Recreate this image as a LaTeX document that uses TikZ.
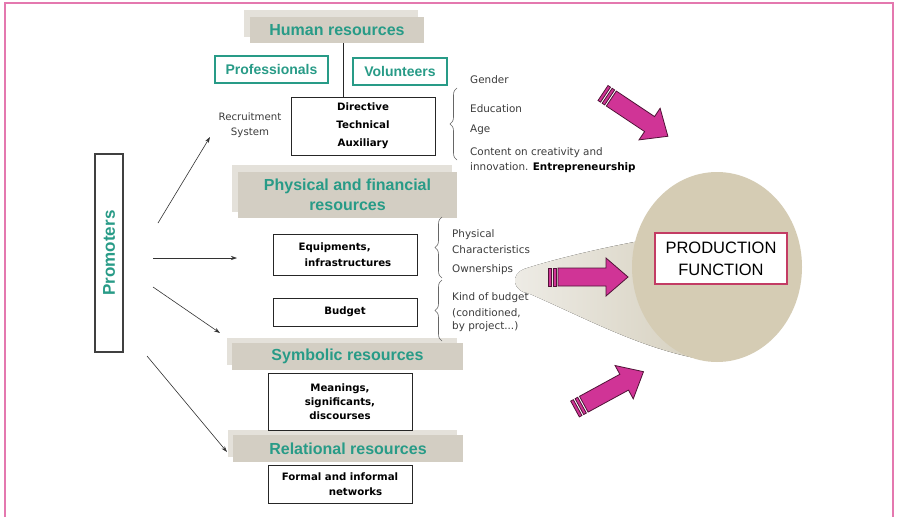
\documentclass[tikz,border=0pt]{standalone}
\usepackage{fontspec}
\setmainfont{DejaVu Sans}
\newfontfamily\hdfont{Liberation Sans}
\usetikzlibrary{decorations.pathreplacing,arrows.meta}
\definecolor{tealc}{RGB}{40,155,135}
\definecolor{hdback}{RGB}{228,225,218}
\definecolor{hdfront}{RGB}{211,206,195}
\definecolor{ellc}{RGB}{213,204,180}
\definecolor{tailA}{RGB}{238,236,230}
\definecolor{tailB}{RGB}{212,206,188}
\definecolor{pinkc}{RGB}{208,52,150}
\definecolor{pinkd}{RGB}{80,20,55}
\definecolor{bordc}{RGB}{228,120,175}
\definecolor{prodc}{RGB}{195,60,100}
\definecolor{listc}{RGB}{60,60,60}
\tikzset{
  hdfr/.style={fill=hdfront,text=tealc,inner sep=0pt,align=center,
    font=\hdfont\bfseries\fontsize{16}{20}\selectfont},
  hdbk/.style={fill=hdback,inner sep=0pt},
  tealbox/.style={draw=tealc,line width=1.6pt,text=tealc,inner sep=0pt,
    font=\hdfont\bfseries\fontsize{14}{15}\selectfont},
  whitebox/.style={draw=black!85,line width=0.8pt,fill=white,inner sep=0pt,
    font=\bfseries\fontsize{10.2}{14}\selectfont},
  listtext/.style={text=listc,anchor=west,inner sep=0pt,font=\fontsize{10.4}{11}\selectfont},
  brc/.style={draw=black!60,line width=0.6pt,decorate,decoration={brace,amplitude=7pt}},
  parr/.style={draw=black!80,line width=0.6pt,-{Stealth[length=6pt,width=4pt]}},
  pinkarr/.pic={
    \filldraw[fill=pinkc,draw=pinkd,line width=0.8pt] (0,-9) rectangle (3,9);
    \filldraw[fill=pinkc,draw=pinkd,line width=0.8pt] (5,-9) rectangle (8,9);
    \filldraw[fill=pinkc,draw=pinkd,line width=0.8pt]
      (10,-9) -- (#1-22,-9) -- (#1-22,-19) -- (#1,0) -- (#1-22,19) -- (#1-22,9) -- (10,9) -- cycle;
  }
}
\begin{document}
\begin{tikzpicture}[x=1pt,y=-1pt]
\useasboundingbox (0,0) rectangle (897,517);
\fill[white] (0,0) rectangle (897,517);
\draw[bordc,line width=1.3pt] (5,517) -- (5,3) -- (893,3) -- (893,517);

% production function background
\fill[left color=tailA,right color=tailB]
  (645,240) .. controls (590,250) and (545,262) .. (524,269)
  .. controls (510,275) and (512,291) .. (530,294)
  .. controls (585,318) and (640,348) .. (700,359) -- (717,267) -- cycle;
\fill[ellc] (717,267) ellipse [x radius=85, y radius=95];
\node[draw=prodc,line width=1.2pt,fill=white,minimum width=132pt,minimum height=51pt,
  inner sep=0pt,align=center,font=\hdfont\fontsize{16.5}{22}\selectfont] (prod) at (721,258.5)
  {PRODUCTION\\FUNCTION};

% headers
\node[hdbk,minimum width=174pt,minimum height=27pt] (hrb) at (331,23.5) {};
\node[hdfr,minimum width=174pt,minimum height=26pt] (hr) at (337,30) {Human resources};
\node[hdbk,minimum width=220pt,minimum height=47pt] (pfb) at (342,188.5) {};
\node[hdfr,minimum width=219pt,minimum height=46pt] (pf) at (347.5,195) {Physical and financial\\resources};
\node[hdbk,minimum width=230pt,minimum height=27pt] (syb) at (342,351.5) {};
\node[hdfr,minimum width=231pt,minimum height=27pt] (sy) at (347.5,356.5) {Symbolic resources};
\node[hdbk,minimum width=229pt,minimum height=27pt] (reb) at (342.5,443.5) {};
\node[hdfr,minimum width=230pt,minimum height=27pt] (re) at (348,448.5) {Relational resources};

% teal boxes
\node[tealbox,minimum width=113pt,minimum height=27pt] (prof) at (271.5,69.5) {Professionals};
\node[tealbox,minimum width=94pt,minimum height=27pt] (vol) at (400,71.5) {Volunteers};
\node[tealbox,line width=1.2pt,draw=black!75,minimum width=28pt,minimum height=198pt] (prom) at (109,253)
  {\rotatebox{90}{\fontsize{17}{17}\selectfont Promoters}};

% white boxes
\node[whitebox,minimum width=144pt,minimum height=58pt,align=center,
  font=\bfseries\fontsize{10.2}{18}\selectfont] (dir) at (363,126) {Directive\\Technical\\Auxiliary};
\draw[black!85,line width=0.8pt] ([xshift=6pt]hr.south) -- ([xshift=6pt]hr.south |- dir.north);
\node[whitebox,minimum width=144pt,minimum height=41pt,align=left,
  font=\bfseries\fontsize{10.2}{16}\selectfont] (eq) at (345,254.5) {Equipments,\\\hspace*{6pt}infrastructures};
\node[whitebox,minimum width=144pt,minimum height=28pt] (bud) at (345,312) {Budget};
\node[whitebox,minimum width=144pt,minimum height=57pt,align=center] (mean) at (340,401.5)
  {Meanings,\\significants,\\discourses};
\node[whitebox,minimum width=144pt,minimum height=38pt,align=left,
  font=\bfseries\fontsize{10.2}{15}\selectfont] (form) at (340,484) {Formal and informal\\\hspace*{47pt}networks};

% recruitment
\node[text=listc,align=center,inner sep=0pt,font=\fontsize{10.2}{15}\selectfont] (rec) at (250,125.5)
  {Recruitment\\System};

% promoter arrows
\coordinate (a1s) at (158,223); \coordinate (a1e) at (210,137);
\coordinate (a2s) at (153,258); \coordinate (a2e) at (237,258);
\coordinate (a3s) at (153,287); \coordinate (a3e) at (220,333);
\coordinate (a4s) at (147,356); \coordinate (a4e) at (227,452);
\draw[parr] (a1s) -- (a1e);
\draw[parr] (a2s) -- (a2e);
\draw[parr] (a3s) -- (a3e);
\draw[parr] (a4s) -- (a4e);

% human list
\coordinate (b1t) at (457,88); \coordinate (b1b) at (457,160);
\draw[brc] (b1b) -- (b1t);
\node[listtext] (l1) at (470,80) {Gender};
\node[listtext] (l2) at (470,109) {Education};
\node[listtext] (l3) at (470,130) {Age};
\node[listtext] (l4) at (470,153) {Content on creativity and};
\node[listtext] (l5) at (470,168) {innovation. \textcolor{black}{\bfseries Entrepreneurship}};

% physical list
\coordinate (b2t) at (442,217); \coordinate (b2b) at (442,278);
\coordinate (b3t) at (442,280); \coordinate (b3b) at (442,341);
\draw[brc] (b2b) -- (b2t);
\draw[brc] (b3b) -- (b3t);
\node[listtext] (p1) at (452,235) {Physical};
\node[listtext] (p2) at (452,250) {Characteristics};
\node[listtext] (p3) at (452,270) {Ownerships};
\node[listtext] (p4) at (452,298) {Kind of budget};
\node[listtext] (p5) at (452,313) {(conditioned,};
\node[listtext] (p6) at (452,327) {by project...)};

% pink arrows
\pic[rotate=-33.7] at (603,93) {pinkarr=78};
\pic at (548,277) {pinkarr=80};
\pic[rotate=28.6] at (575,409) {pinkarr=78};
\end{tikzpicture}
\end{document}
